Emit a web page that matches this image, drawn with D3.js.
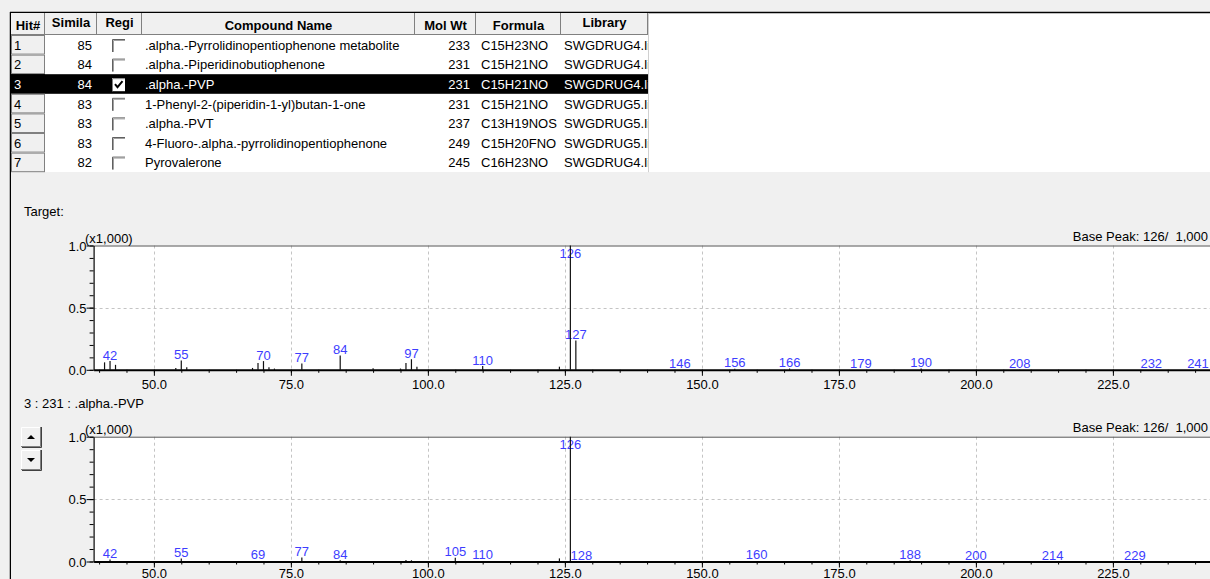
<!DOCTYPE html>
<html><head><meta charset="utf-8">
<script src="https://cdn.jsdelivr.net/npm/d3@7"></script>
<style>
body{margin:0;background:#f0f0f0;overflow:hidden}
svg{display:block;font-family:"Liberation Sans",Arial,sans-serif}
</style>
</head><body>
<svg id="c" width="1210" height="579"></svg>
<script>
// ---------- DATA ----------
const hitNumbers = [1, 2, 3, 4, 5, 6, 7];
const similarity = [85, 84, 84, 83, 83, 83, 82];
const registered = [false, false, true, false, false, false, false];
const compoundNames = [
  ".alpha.-Pyrrolidinopentiophenone metabolite",
  ".alpha.-Piperidinobutiophenone",
  ".alpha.-PVP",
  "1-Phenyl-2-(piperidin-1-yl)butan-1-one",
  ".alpha.-PVT",
  "4-Fluoro-.alpha.-pyrrolidinopentiophenone",
  "Pyrovalerone"
];
const molWeights = [233, 231, 231, 231, 237, 249, 245];
const formulas = ["C15H23NO", "C15H21NO", "C15H21NO", "C15H21NO", "C13H19NOS", "C15H20FNO", "C16H23NO"];
const libraries = ["SWGDRUG4.lib", "SWGDRUG4.lib", "SWGDRUG4.lib", "SWGDRUG5.lib", "SWGDRUG5.lib", "SWGDRUG5.lib", "SWGDRUG4.lib"];
const selectedHit = 3;
const headerLabels = ["Hit#", "Simila", "Regi", "Compound Name", "Mol Wt", "Formula", "Library"];
const headerTwoLine = [false, true, true, false, false, false, true];

const targetTitle = "Target:";
const libraryTitle = "3 : 231 : .alpha.-PVP";
const basePeakText = "Base Peak: 126/  1,000";
const scaleText = "(x1,000)";

// target spectrum (m/z, intensity on 0-1000 scale)
const targetMz        = [41, 42, 43, 54, 55, 56, 68, 69, 70, 71, 72, 77, 84, 90, 95, 96, 97, 98, 110, 124, 126, 127, 146, 156, 166, 179, 190, 208, 232, 241];
const targetIntensity = [60, 70, 40, 15, 75, 20, 15, 55, 70, 20, 10, 50, 115, 12, 10, 55, 85, 25, 30, 25, 1000, 235, 0, 8, 10, 0, 10, 2, 0, 0];
const targetLabeled   = [42, 55, 70, 77, 84, 97, 110, 126, 127, 146, 156, 166, 179, 190, 208, 232, 241];

// library spectrum
const libraryMz        = [42, 55, 69, 77, 84, 96, 97, 105, 110, 124, 126, 128, 160, 188, 200, 214, 229];
const libraryIntensity = [16, 24, 5, 32, 10, 12, 10, 30, 5, 25, 1000, 0, 5, 10, 0, 0, 0];
const libraryLabeled   = [42, 55, 69, 77, 84, 105, 110, 126, 128, 160, 188, 200, 214, 229];

const xTickValues = [50, 75, 100, 125, 150, 175, 200, 225];
const yTickValues = [0, 500, 1000];

// ---------- DRAW ----------
const svg = d3.select("#c");
const W = 1210;

// top area frame
svg.append("rect").attr("x", 10).attr("y", 12).attr("width", W - 10).attr("height", 163).attr("fill", "#fff");
svg.append("line").attr("x1", 10).attr("x2", W).attr("y1", 12.5).attr("y2", 12.5).attr("stroke", "#000").attr("stroke-width", 1.5);
svg.append("line").attr("x1", 10.5).attr("x2", 10.5).attr("y1", 12).attr("y2", 579).attr("stroke", "#000").attr("stroke-width", 1.5);
svg.append("rect").attr("x", 11).attr("y", 172).attr("width", W - 11).attr("height", 407).attr("fill", "#f0f0f0");

// table
const colX = [11, 45, 97, 142, 415, 476, 561, 648];
const headTop = 13, headBot = 35, rowH = 19.6;
const tbl = svg.append("g").style("font-size", "13px");
const defs = svg.append("defs");
colX.slice(0, -1).forEach((x0, i) => {
  defs.append("clipPath").attr("id", "colclip" + i).append("rect")
    .attr("x", x0).attr("y", headBot).attr("width", colX[i + 1] - x0 - 0.5).attr("height", rowH * 7);
});

// header
const hg = tbl.append("g");
hg.append("rect").attr("x", 11).attr("y", headTop).attr("width", 637).attr("height", headBot - headTop).attr("fill", "#f0f0f0");
headerLabels.forEach((h, i) => {
  const cx = (colX[i] + colX[i + 1]) / 2;
  hg.append("line").attr("x1", colX[i + 1] - 0.5).attr("x2", colX[i + 1] - 0.5).attr("y1", headTop).attr("y2", headBot)
    .attr("stroke", "#808080");
  hg.append("text").attr("x", cx).attr("y", headerTwoLine[i] ? 27 : 30).attr("text-anchor", "middle")
    .attr("font-weight", "bold").attr("font-size", "13px").attr("fill", "#000").text(h);
});
hg.append("line").attr("x1", 11).attr("x2", 648).attr("y1", headBot - 0.5).attr("y2", headBot - 0.5).attr("stroke", "#808080");
hg.append("line").attr("x1", 648.5).attr("x2", 648.5).attr("y1", headTop).attr("y2", headBot + rowH * 7).attr("stroke", "#d0d0d0");

// rows
hitNumbers.forEach((hit, r) => {
  const y0 = headBot + r * rowH;
  const cy = y0 + rowH / 2 + 5;
  const sel = hit === selectedHit;
  const fg = sel ? "#fff" : "#000";
  if (sel) tbl.append("rect").attr("x", 11).attr("y", y0).attr("width", 637).attr("height", rowH).attr("fill", "#000");
  else {
    tbl.append("rect").attr("x", 11).attr("y", y0).attr("width", colX[1] - 11).attr("height", rowH).attr("fill", "#f0f0f0");
  }
  tbl.append("rect").attr("x", 11.5).attr("y", y0 + 0.5).attr("width", colX[1] - 12).attr("height", rowH - 1)
    .attr("fill", "none").attr("stroke", sel ? "#000" : "#808080").attr("stroke-width", 1);
  tbl.append("text").attr("x", 14).attr("y", cy).attr("fill", fg).text(hit);
  tbl.append("text").attr("x", 92).attr("y", cy).attr("text-anchor", "end").attr("fill", fg).text(similarity[r]);
  // checkbox
  const bx = 112, by = y0 + 4;
  if (registered[r]) {
    tbl.append("rect").attr("x", bx).attr("y", by).attr("width", 13).attr("height", 13).attr("fill", "#fff");
    tbl.append("path").attr("d", `M${bx + 0.5},${by + 13}V${by + 0.5}H${bx + 13}`).attr("fill", "none").attr("stroke", "#808080");
    tbl.append("path").attr("d", `M${bx + 3},${by + 6} l2.5,3 l5,-6`).attr("fill", "none").attr("stroke", "#000").attr("stroke-width", 2);
  } else {
    tbl.append("path").attr("d", `M${bx + 0.5},${by + 13}V${by + 0.5}H${bx + 13}`).attr("fill", "none").attr("stroke", "#606060");
    tbl.append("path").attr("d", `M${bx + 1.5},${by + 13}V${by + 1.5}H${bx + 13}`).attr("fill", "none").attr("stroke", "#a0a0a0");
  }
  tbl.append("text").attr("x", 145).attr("y", cy).attr("fill", fg).attr("clip-path", "url(#colclip3)").text(compoundNames[r]);
  tbl.append("text").attr("x", 470).attr("y", cy).attr("text-anchor", "end").attr("fill", fg).text(molWeights[r]);
  tbl.append("text").attr("x", 481).attr("y", cy).attr("fill", fg).attr("clip-path", "url(#colclip5)").text(formulas[r]);
  tbl.append("text").attr("x", 564).attr("y", cy).attr("fill", fg).attr("clip-path", "url(#colclip6)").text(libraries[r]);
});

// titles
svg.append("text").attr("x", 24).attr("y", 216).attr("font-size", "13px").attr("fill", "#000").text(targetTitle);
svg.append("text").attr("x", 24).attr("y", 408).attr("font-size", "13px").attr("fill", "#000").text(libraryTitle);

// scroll buttons
[[427, "up"], [450, "down"]].forEach(([by, dir]) => {
  const b = svg.append("g");
  b.append("rect").attr("x", 21).attr("y", by).attr("width", 20).attr("height", 20).attr("fill", "#f0f0f0");
  b.append("path").attr("d", `M21.5,${by + 20}V${by + 0.5}H41`).attr("fill", "none").attr("stroke", "#fff");
  b.append("path").attr("d", `M21,${by + 19.5}H40.5V${by}`).attr("fill", "none").attr("stroke", "#808080");
  b.append("path").attr("d", `M22,${by + 20.5}H41.5V${by}`).attr("fill", "none").attr("stroke", "#404040");
  const cy = by + 10;
  b.append("path").attr("d", dir === "up" ? `M27,${cy + 2}H35L31,${cy - 2}Z` : `M27,${cy - 2}H35L31,${cy + 2}Z`).attr("fill", "#000");
});

function drawSpectrum(top, bottom, mz, inten, labeled, tickLabelY) {
  const x = d3.scaleLinear().domain([39, 245]).range([93.6, 1222.5]);
  const y = d3.scaleLinear().domain([0, 1000]).range([bottom, top]);
  const g = svg.append("g");
  g.append("rect").attr("x", x(39)).attr("y", top).attr("width", W - x(39) + 5).attr("height", bottom - top).attr("fill", "#fff");
  // grid
  g.selectAll(".vg").data(xTickValues).enter().append("line")
    .attr("x1", d => Math.round(x(d)) + 0.5).attr("x2", d => Math.round(x(d)) + 0.5).attr("y1", top).attr("y2", bottom)
    .attr("stroke", "#c4c4c4").attr("stroke-dasharray", "3,3");
  g.append("line").attr("x1", x(39)).attr("x2", W).attr("y1", Math.round(y(500)) + 0.5).attr("y2", Math.round(y(500)) + 0.5)
    .attr("stroke", "#c4c4c4").attr("stroke-dasharray", "3,3");
  // top border
  g.append("line").attr("x1", x(39)).attr("x2", W).attr("y1", top + 0.5).attr("y2", top + 0.5).attr("stroke", "#555");
  // labels
  const lab = g.append("g").attr("font-size", "13px").attr("fill", "#3d3dff").attr("text-anchor", "middle");
  labeled.forEach(m => {
    const v = inten[mz.indexOf(m)];
    lab.append("text").attr("x", Math.min(x(m), 1198)).attr("y", Math.max(y(v) - 1.5, top + 12.5)).text(m);
  });
  // bars
  g.selectAll(".bar").data(mz).enter().append("line")
    .attr("x1", d => x(d)).attr("x2", d => x(d))
    .attr("y1", y(0)).attr("y2", (d, i) => y(inten[i]))
    .attr("stroke", "#111").attr("stroke-width", 1.2);
  // axes
  const xa = g.append("g").attr("transform", `translate(0,${bottom})`)
    .call(d3.axisBottom(x).tickValues(d3.range(40, 246, 5)).tickSize(3).tickSizeOuter(0).tickFormat(""));
  xa.select(".domain").attr("stroke-width", 2);
  const xb = g.append("g").attr("transform", `translate(0,${bottom})`)
    .call(d3.axisBottom(x).tickValues(xTickValues).tickSize(6).tickSizeOuter(0).tickFormat(d3.format(".1f")));
  xb.select(".domain").remove();
  xb.selectAll("text").attr("font-size", "13px").attr("font-family", "Liberation Sans, Arial, sans-serif").attr("fill", "#000")
    .attr("y", tickLabelY).attr("dy", null);
  const ya = g.append("g").attr("transform", `translate(${x(39)},0)`)
    .call(d3.axisLeft(y).tickValues(d3.range(0, 1001, 100)).tickSize(4).tickSizeOuter(0).tickFormat(""));
  ya.select(".domain").attr("stroke-width", 1.2);
  const yb = g.append("g").attr("transform", `translate(${x(39)},0)`)
    .call(d3.axisLeft(y).tickValues(yTickValues).tickSize(7).tickSizeOuter(0).tickFormat(d => (d / 1000).toFixed(1)));
  yb.select(".domain").remove();
  yb.selectAll("text").attr("font-size", "13px").attr("font-family", "Liberation Sans, Arial, sans-serif").attr("fill", "#000").attr("x", -7).attr("dy", "0.35em");
  // captions
  g.append("text").attr("x", 85).attr("y", top - 3).attr("font-size", "13px").attr("fill", "#000").text(scaleText);
  g.append("text").attr("x", 1208).attr("y", top - 5).attr("text-anchor", "end").attr("font-size", "13px").attr("fill", "#000").style("white-space", "pre").text(basePeakText);
}

drawSpectrum(245.5, 369.8, targetMz, targetIntensity, targetLabeled, 19);
drawSpectrum(436.7, 561.5, libraryMz, libraryIntensity, libraryLabeled, 16);
</script>
</body></html>
